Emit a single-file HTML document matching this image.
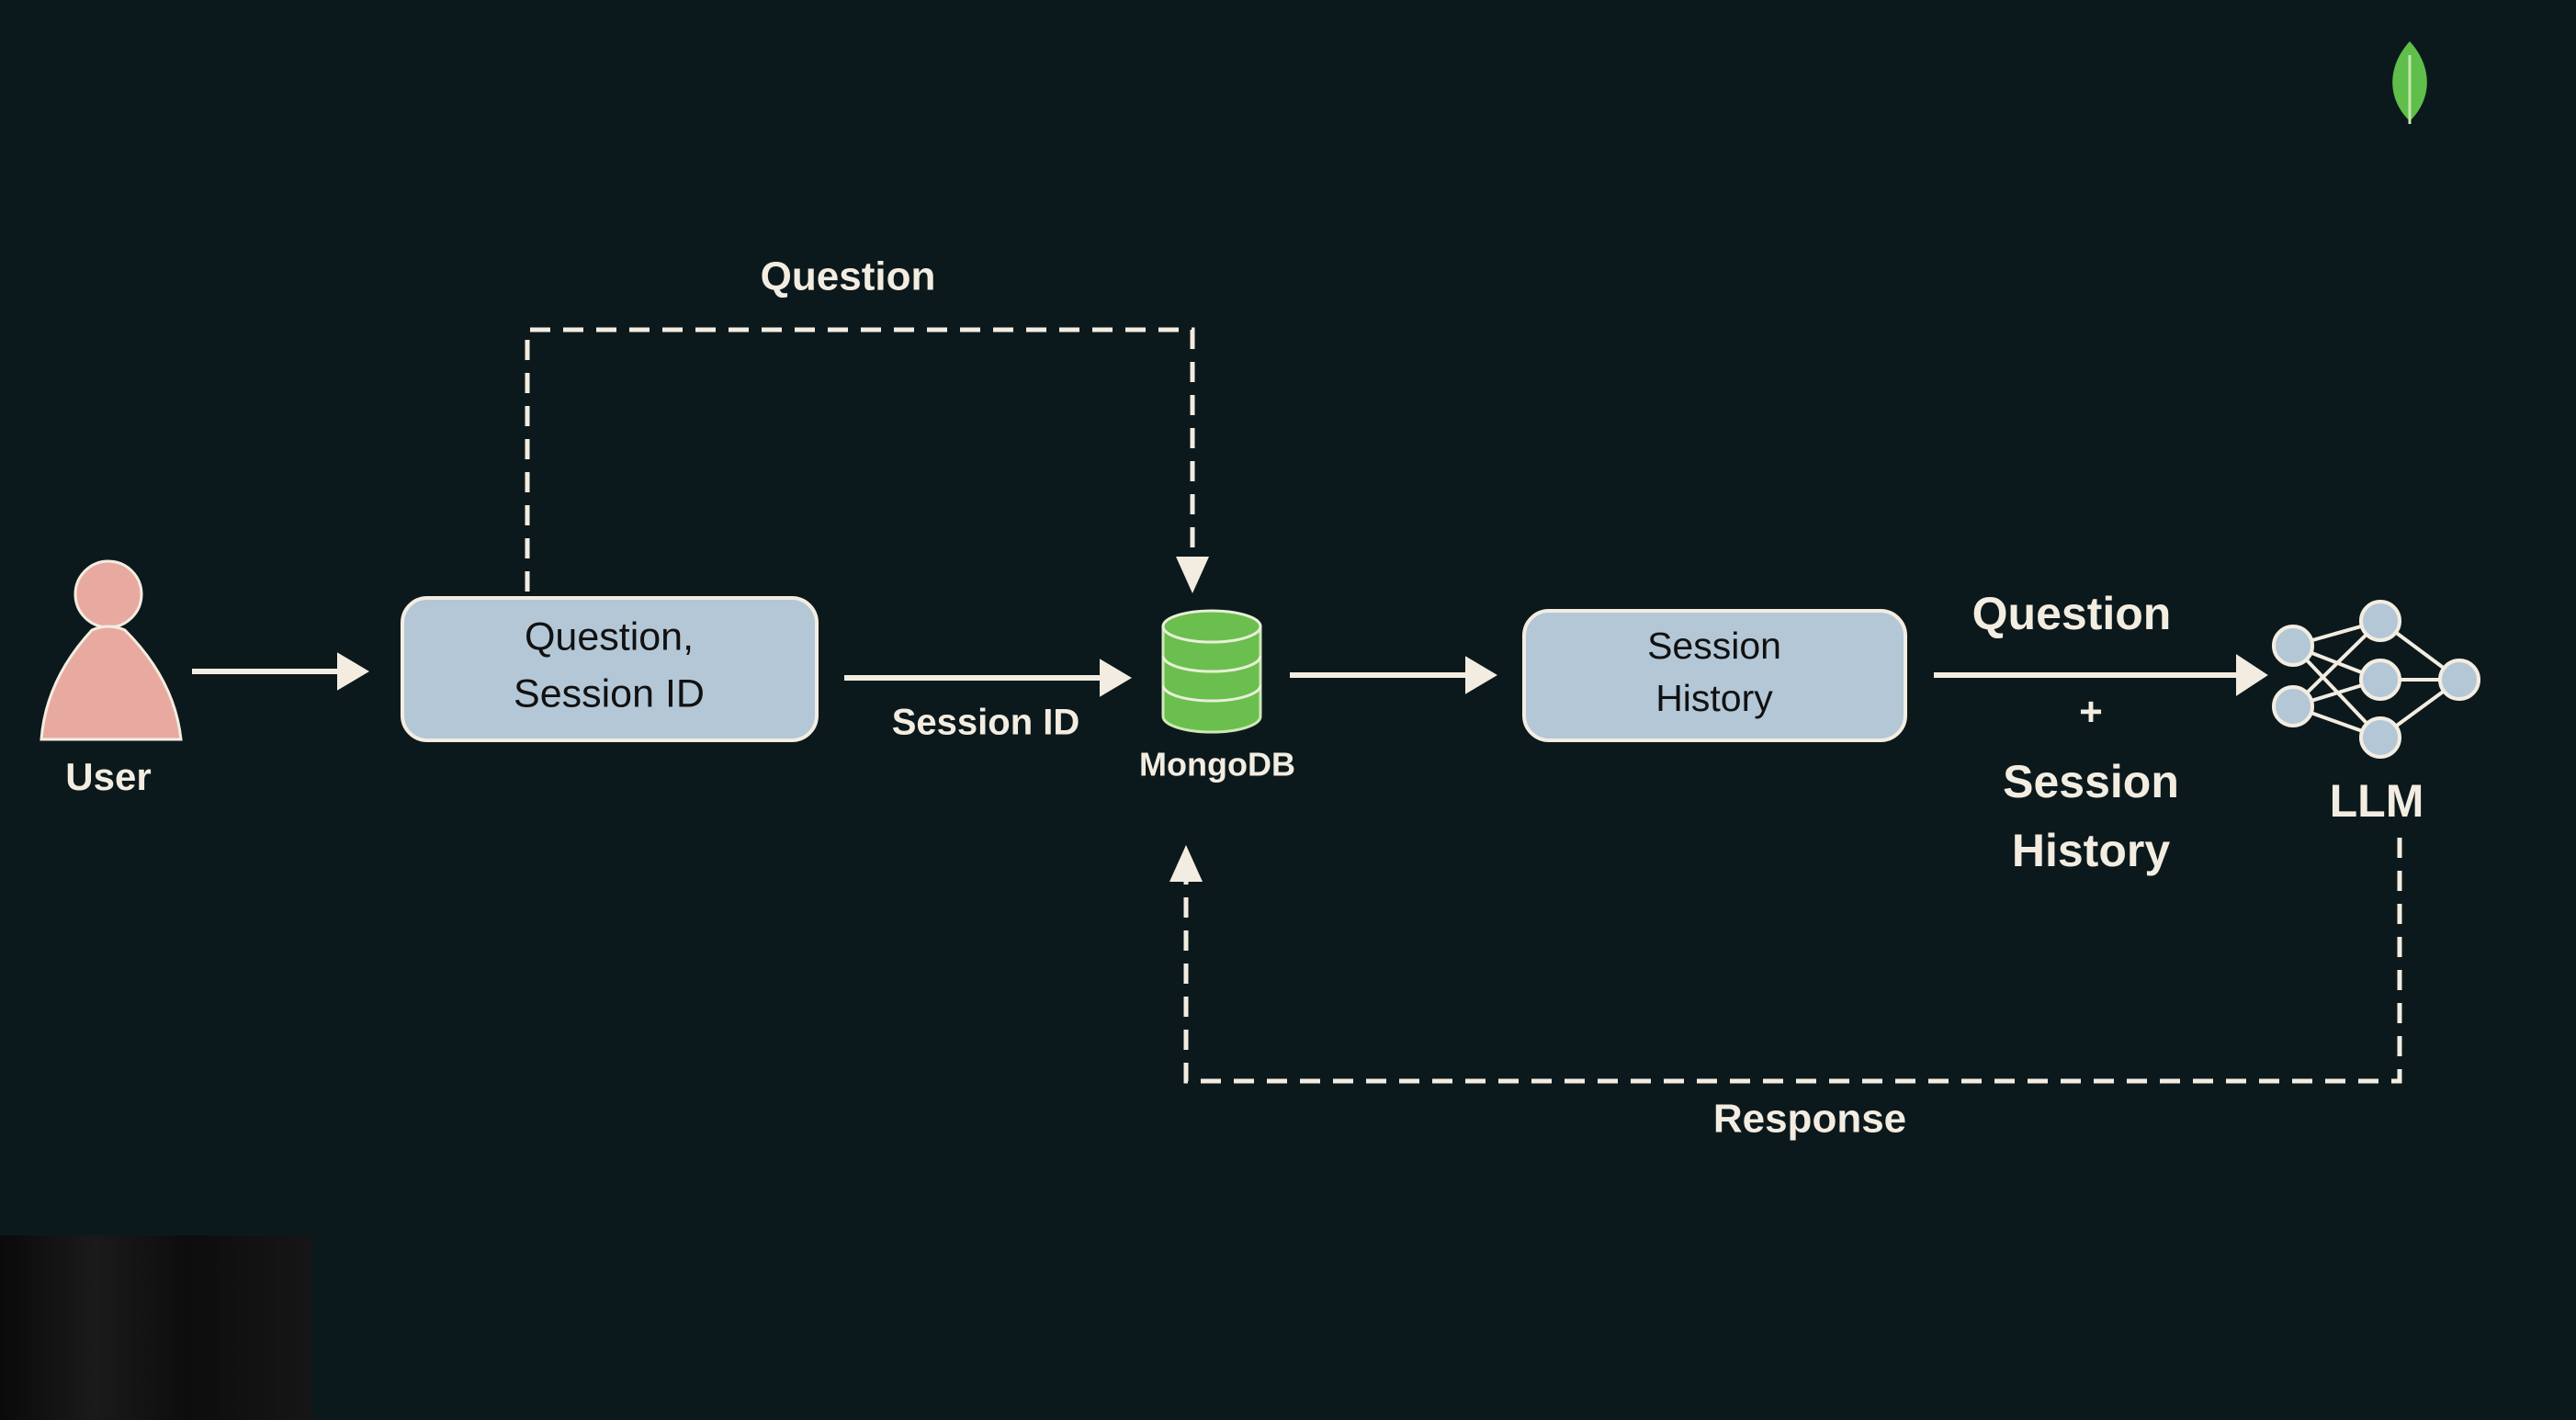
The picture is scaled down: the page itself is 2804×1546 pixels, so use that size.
<!DOCTYPE html>
<html><head><meta charset="utf-8"><style>
html,body{margin:0;padding:0;background:#0c191c;}
svg{display:block}
text{font-family:"Liberation Sans",sans-serif;fill:#f3ede1;text-anchor:middle;dominant-baseline:middle;font-weight:bold}
</style></head><body>
<svg width="2804" height="1546" viewBox="0 0 2804 1546">
<defs>
<linearGradient id="bl" x1="0" x2="1"><stop offset="0" stop-color="#0a0a0a"/><stop offset="0.3" stop-color="#1a1a1a"/><stop offset="0.6" stop-color="#0d0d0d"/><stop offset="1" stop-color="#161616"/></linearGradient>
</defs>
<rect width="2804" height="1546" fill="#0c191c"/>
<rect x="0" y="1345" width="340" height="201" fill="url(#bl)"/>
<path d="M2623 45 C2600 70 2596 105 2623 132 C2650 105 2646 70 2623 45Z" fill="#5fbf4a"/>
<line x1="2623" y1="60" x2="2623" y2="135" stroke="#c8e6b0" stroke-width="3"/>
<circle cx="118" cy="647" r="36" fill="#e8aaa0" stroke="#f3ede1" stroke-width="3"/>
<path d="M100 686 Q118 678 136 686 Q190 740 197 805 L45 805 Q50 740 100 686Z" fill="#e8aaa0" stroke="#f3ede1" stroke-width="3"/>
<text x="118" y="849" font-size="42">User</text>
<g stroke="#f3ede1" stroke-width="6" fill="#f3ede1">
<line x1="209" y1="731" x2="370" y2="731"/><polygon points="368,712 400,731 368,750" stroke-width="2"/>
<line x1="919" y1="738" x2="1200" y2="738"/><polygon points="1198,719 1230,738 1198,757" stroke-width="2"/>
<line x1="1404" y1="735" x2="1598" y2="735"/><polygon points="1596,716 1628,735 1596,754" stroke-width="2"/>
<line x1="2105" y1="735" x2="2437" y2="735"/><polygon points="2435,714 2467,735 2435,756" stroke-width="2"/>
</g>
<g stroke="#f3ede1" stroke-width="5" fill="none" stroke-dasharray="22 14">
<polyline points="574,644 574,359 1298,359 1298,610"/>
<polyline points="2612,912 2612,1177 1291,1177 1291,955"/>
</g>
<polygon points="1280,606 1316,606 1298,646" fill="#f3ede1"/>
<polygon points="1273,960 1309,960 1291,920" fill="#f3ede1"/>
<rect x="438" y="651" width="451" height="155" rx="27" fill="#b3c7d6" stroke="#f3ede1" stroke-width="4"/>
<text x="663" y="696" font-size="43" style="fill:#111;font-weight:normal">Question,</text>
<text x="663" y="758" font-size="43" style="fill:#111;font-weight:normal">Session ID</text>
<rect x="1659" y="665" width="415" height="141" rx="27" fill="#b3c7d6" stroke="#f3ede1" stroke-width="4"/>
<text x="1866" y="706" font-size="41" style="fill:#111;font-weight:normal">Session</text>
<text x="1866" y="763" font-size="41" style="fill:#111;font-weight:normal">History</text>
<path d="M1266 682 L1266 780 A53 17 0 0 0 1372 780 L1372 682Z" fill="#6bbf4e" stroke="#cfe8b8" stroke-width="3"/>
<ellipse cx="1319" cy="682" rx="53" ry="17" fill="#6bbf4e" stroke="#e8f0d8" stroke-width="3"/>
<path d="M1266 714 A53 17 0 0 0 1372 714 M1266 746 A53 17 0 0 0 1372 746" fill="none" stroke="#e8f0d8" stroke-width="3"/>
<text x="1325" y="835" font-size="36">MongoDB</text>
<text x="923" y="304" font-size="44">Question</text>
<text x="1073" y="789" font-size="40">Session ID</text>
<text x="2255" y="672" font-size="50">Question</text>
<text x="2276" y="778" font-size="44">+</text>
<text x="2276" y="855" font-size="50">Session</text>
<text x="2276" y="930" font-size="50">History</text>
<text x="2587" y="876" font-size="50">LLM</text>
<text x="1970" y="1221" font-size="44">Response</text>
<g stroke="#f3ede1" stroke-width="4">
<line x1="2496" y1="703" x2="2591" y2="676"/><line x1="2496" y1="703" x2="2591" y2="740"/><line x1="2496" y1="703" x2="2591" y2="803"/>
<line x1="2496" y1="769" x2="2591" y2="676"/><line x1="2496" y1="769" x2="2591" y2="740"/><line x1="2496" y1="769" x2="2591" y2="803"/>
<line x1="2591" y1="676" x2="2677" y2="740"/><line x1="2591" y1="740" x2="2677" y2="740"/><line x1="2591" y1="803" x2="2677" y2="740"/>
</g>
<g fill="#b3c7d6" stroke="#f3ede1" stroke-width="4">
<circle cx="2496" cy="703" r="21"/><circle cx="2496" cy="769" r="21"/>
<circle cx="2591" cy="676" r="21"/><circle cx="2591" cy="740" r="21"/><circle cx="2591" cy="803" r="21"/>
<circle cx="2677" cy="740" r="21"/>
</g>
</svg>
</body></html>
